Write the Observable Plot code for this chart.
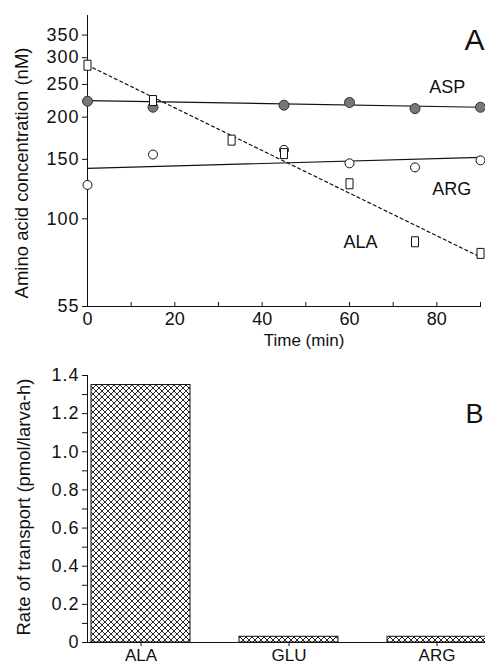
<!DOCTYPE html>
<html><head><meta charset="utf-8">
<script src="https://cdn.jsdelivr.net/npm/d3@7"></script>
<script src="https://cdn.jsdelivr.net/npm/@observablehq/plot@0.6"></script>
<style>
html,body{margin:0;padding:0;background:#fff;overflow:hidden;}
svg{display:block;max-width:none;}
g[aria-label="y-axis tick label"] text{letter-spacing:1px;}
</style></head><body><div id="chart"></div>
<script>
// Panel A data
const times = [0, 15, 45, 60, 75, 90];
const aspValues = [223, 214, 217, 221, 212, 214];
const argValues = [126, 155, 160, 146, 142, 149];
const alaTimes = [0, 15, 33, 45, 60, 75, 90];
const alaValues = [285, 224, 171, 156, 127, 85.5, 79];
const fitTimes = [0, 90];
const aspFit = [224, 214];
const argFit = [141, 152];
const alaFit = [285, 77];
const seriesNames = ["ASP", "ARG", "ALA"];
const yTicksA = [55, 100, 150, 200, 250, 300, 350];
const xTicksA = [0, 20, 40, 60, 80];
const xMinorA = [10, 20, 30, 40, 50, 60, 70, 80, 90];

// Panel B data
const bCategories = ["ALA", "GLU", "ARG"];
const bValues = [1.35, 0.03, 0.03];
const yTicksB = [0, 0.2, 0.4, 0.6, 0.8, 1.0, 1.2, 1.4];
const yMinorB = [0.1, 0.3, 0.5, 0.7, 0.9, 1.1, 1.3];

const font = "'Liberation Sans', Arial, Helvetica, sans-serif";
const ink = "#111";

const asp = times.map((t, i) => ({t, v: aspValues[i]}));
const arg = times.map((t, i) => ({t, v: argValues[i]}));
const ala = alaTimes.map((t, i) => ({t, v: alaValues[i]}));
const fit = (vals) => fitTimes.map((t, i) => ({t, v: vals[i]}));
const rectSymbol = {draw(ctx) { ctx.rect(-3.5, -5, 7, 10); }};

const plotA = Plot.plot({
  width: 485, height: 355,
  marginLeft: 87, marginRight: 5, marginTop: 15, marginBottom: 49,
  style: {fontFamily: font, background: "white", color: ink},
  x: {domain: [0, 90], label: null},
  y: {type: "log", domain: [55, 400], label: null},
  marks: [
    Plot.frame({anchor: "left", stroke: ink}),
    Plot.frame({anchor: "bottom", stroke: ink}),
    Plot.axisY({ticks: yTicksA, tickSize: 5, tickPadding: 3, tickFormat: d => String(d), fontSize: 18, label: null}),
    Plot.tickX(xMinorA, {x: d => d, insetTop: 291 - 4, stroke: ink}),
    Plot.axisX({ticks: xTicksA, tickSize: 0, tickPadding: 6, fontSize: 18, label: null}),
    Plot.line(fit(aspFit), {x: "t", y: "v", stroke: ink, strokeWidth: 1.2}),
    Plot.line(fit(argFit), {x: "t", y: "v", stroke: ink, strokeWidth: 1.2}),
    Plot.line(fit(alaFit), {x: "t", y: "v", stroke: ink, strokeWidth: 1.2, strokeDasharray: "3,3"}),
    Plot.dot(asp, {x: "t", y: "v", r: 5, fill: "#777", stroke: "#333", strokeWidth: 1}),
    Plot.dot(arg, {x: "t", y: "v", r: 4.5, fill: "white", stroke: ink, strokeWidth: 1}),
    Plot.dot(ala, {x: "t", y: "v", symbol: rectSymbol, fill: "white", stroke: ink, strokeWidth: 1}),
    Plot.text([{t: 82.4, v: 245, s: seriesNames[0]}, {t: 83.4, v: 122, s: seriesNames[1]}, {t: 62.5, v: 85.5, s: seriesNames[2]}],
      {x: "t", y: "v", text: "s", fontSize: 18, fill: ink}),
    Plot.text(["Amino acid concentration (nM)"], {text: d => d, frameAnchor: "left", textAnchor: "middle", lineAnchor: "middle", rotate: -90, dx: -65, dy: 12, fontSize: 18.5, fill: ink}),
    Plot.text(["Time (min)"], {text: d => d, frameAnchor: "bottom", textAnchor: "middle", dx: 20, dy: 39, fontSize: 17, fill: ink}),
    Plot.text(["A"], {text: d => d, frameAnchor: "top-right", textAnchor: "end", dx: 4, dy: 13.5, fontSize: 30, fill: ink})
  ]
});

const bRows = bCategories.map((c, i) => ({cat: c, val: bValues[i]}));

const plotB = Plot.plot({
  width: 485, height: 311,
  marginLeft: 87, marginRight: 0, marginTop: 20, marginBottom: 24,
  style: {fontFamily: font, background: "white", color: ink},
  x: {type: "band", domain: bCategories, range: [87, 490], paddingInner: 0.33, paddingOuter: 0.02, label: null},
  y: {domain: [0, 1.4], label: null},
  marks: [
    Plot.barY(bRows, {x: "cat", y: "val", fill: "url(#hatch)", stroke: ink, strokeWidth: 1}),
    Plot.frame({anchor: "left", stroke: ink}),
    Plot.frame({anchor: "bottom", stroke: ink}),
    Plot.axisY({ticks: yTicksB, tickSize: 5, tickPadding: 3, tickFormat: d => d === 0 ? "0" : d.toFixed(1), fontSize: 18, label: null}),
    Plot.axisY({ticks: yMinorB, tickSize: 5, tickFormat: () => "", label: null}),
    Plot.axisX({tickSize: 4, tickPadding: 2, fontSize: 17, label: null}),
    Plot.text(["Rate of transport (pmol/larva-h)"], {text: d => d, frameAnchor: "left", textAnchor: "middle", lineAnchor: "middle", rotate: -90, dx: -63, dy: -2, fontSize: 18.5, fill: ink}),
    Plot.text(["B"], {text: d => d, frameAnchor: "top-right", textAnchor: "end", dx: -2, dy: 28, fontSize: 27, fill: ink})
  ]
});

d3.select(plotB).insert("defs", ":first-child").html(
  '<pattern id="hatch" patternUnits="userSpaceOnUse" width="6" height="6">' +
  '<rect width="6" height="6" fill="white"/>' +
  '<path d="M0,0L6,6M6,0L0,6M-1,5L1,7M5,-1L7,1M-1,1L1,-1M5,7L7,5" stroke="#111" stroke-width="0.9"/>' +
  '</pattern>');

const root = document.getElementById("chart");
root.appendChild(plotA);
root.appendChild(plotB);
</script>
</body></html>
